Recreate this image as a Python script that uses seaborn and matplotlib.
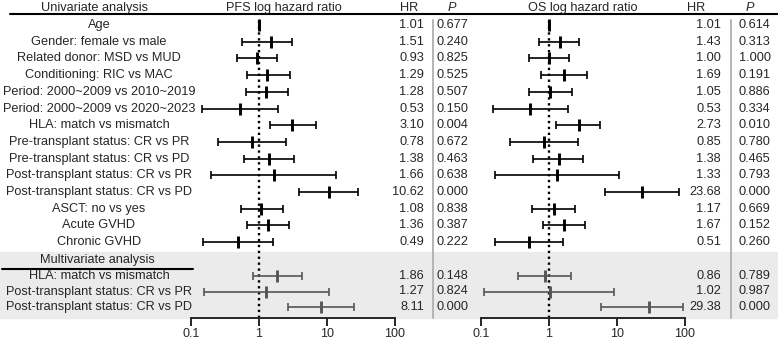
import numpy as np
import pandas as pd
import matplotlib
matplotlib.use("Agg")
import matplotlib.pyplot as plt
import seaborn as sns

sns.set_style("white")
plt.rcParams["font.family"] = ["Liberation Sans", "DejaVu Sans"]

# ---------------- data ----------------
labels_uni = ["Age", "Gender: female vs male", "Related donor: MSD vs MUD",
              "Conditioning: RIC vs MAC", "Period: 2000~2009 vs 2010~2019",
              "Period: 2000~2009 vs 2020~2023", "HLA: match vs mismatch",
              "Pre-transplant status: CR vs PR", "Pre-transplant status: CR vs PD",
              "Post-transplant status: CR vs PR", "Post-transplant status: CR vs PD",
              "ASCT: no vs yes", "Acute GVHD", "Chronic GVHD"]
labels_multi = ["HLA: match vs mismatch", "Post-transplant status: CR vs PR",
                "Post-transplant status: CR vs PD"]

pfs_hr = [1.01, 1.51, 0.93, 1.29, 1.28, 0.53, 3.10, 0.78, 1.38, 1.66, 10.62, 1.08, 1.36, 0.49,
          1.86, 1.27, 8.11]
pfs_lo = [0.985, 0.56, 0.48, 0.67, 0.64, 0.145, 1.45, 0.25, 0.60, 0.20, 3.9, 0.54, 0.67, 0.15,
          0.82, 0.155, 2.64]
pfs_hi = [1.035, 3.09, 1.82, 2.86, 2.64, 1.92, 6.8, 2.47, 3.27, 13.5, 28.8, 2.23, 2.79, 1.59,
          4.33, 10.8, 25.2]
pfs_p = ["0.677", "0.240", "0.825", "0.525", "0.507", "0.150", "0.004", "0.672", "0.463",
         "0.638", "0.000", "0.838", "0.387", "0.222", "0.148", "0.824", "0.000"]

os_hr = [1.01, 1.43, 1.00, 1.69, 1.05, 0.53, 2.73, 0.85, 1.38, 1.33, 23.68, 1.17, 1.67, 0.51,
         0.86, 1.02, 29.38]
os_lo = [0.985, 0.72, 0.50, 0.76, 0.51, 0.149, 1.25, 0.27, 0.58, 0.16, 6.6, 0.56, 0.81, 0.16,
         0.35, 0.11, 5.75]
os_hi = [1.035, 2.79, 1.99, 3.66, 2.15, 1.92, 5.6, 2.64, 3.2, 10.7, 81, 2.41, 3.38, 1.62,
         2.11, 9.1, 94]
os_p = ["0.614", "0.313", "1.000", "0.191", "0.886", "0.334", "0.010", "0.780", "0.465",
        "0.793", "0.000", "0.669", "0.152", "0.260", "0.789", "0.987", "0.000"]

xticks = [0.1, 1, 10, 100]
xtick_labels = ["0.1", "1", "10", "100"]

# ---------------- layout (pixels) ----------------
W, H = 778, 344
row_y = [25 + 16.7 * i for i in range(len(labels_uni))] + [276, 291.5, 307]
group = ["uni"] * len(labels_uni) + ["multi"] * len(labels_multi)
labels = labels_uni + labels_multi
FS = 9.2
LAB_X = 99
AXIS_Y = 318

fig = plt.figure(figsize=(W / 100, H / 100), dpi=100)
bg = fig.add_axes([0, 0, 1, 1])
bg.set_xlim(0, W)
bg.set_ylim(H, 0)
bg.axis("off")

# grey band for multivariate block
bg.axhspan(252, AXIS_Y, color="#ebebeb", zorder=0)
bg.plot([10, W], [14, 14], color="black", lw=1.5)
bg.plot([2, 193], [269, 269], color="black", lw=1.5)
for xs in (433, 731):
    bg.plot([xs, xs], [20, AXIS_Y], color="#b4b4b4", lw=1.4)

# headers
bg.text(95, 8, "Univariate analysis", ha="center", va="center", fontsize=FS)
bg.text(284, 8, "PFS log hazard ratio", ha="center", va="center", fontsize=FS)
bg.text(409, 8, "HR", ha="center", va="center", fontsize=FS)
bg.text(452, 8, "P", ha="center", va="center", fontsize=FS, style="italic")
bg.text(583, 8, "OS log hazard ratio", ha="center", va="center", fontsize=FS)
bg.text(696, 8, "HR", ha="center", va="center", fontsize=FS)
bg.text(750, 8, "P", ha="center", va="center", fontsize=FS, style="italic")
bg.text(97, 260, "Multivariate analysis", ha="center", va="center", fontsize=FS)

for lab, y in zip(labels, row_y):
    bg.text(LAB_X, y, lab, ha="center", va="center", fontsize=FS)


def panel(left_px, hr, lo, hi, pv, hr_x, p_x):
    ax = fig.add_axes([left_px / W, 0, 204 / W, 1])
    ax.patch.set_alpha(0)
    ax.set_xscale("log")
    ax.set_xlim(0.1, 100)
    ax.set_ylim(H, 0)
    df = pd.DataFrame({"hr": hr, "lo": lo, "hi": hi, "y": row_y, "group": group})
    for g, col in (("uni", "black"), ("multi", "#555555")):
        d = df[df.group == g]
        ax.errorbar(d.hr, d.y, xerr=[d.hr - d.lo, d.hi - d.hr], fmt="none",
                    ecolor=col, elinewidth=1.2, capsize=2.6, capthick=1.2, zorder=3)
        sns.scatterplot(data=d, x="hr", y="y", marker="|", s=75, color=col,
                        linewidth=2.1, ax=ax, zorder=4, legend=False)
    ax.axvline(1, ymin=(H - AXIS_Y) / H, ymax=(H - 20) / H, color="black",
               lw=1.7, ls=(0, (1, 1.5)), zorder=2)
    for s in ("top", "left", "right"):
        ax.spines[s].set_visible(False)
    ax.spines["bottom"].set_position(("data", AXIS_Y))
    ax.spines["bottom"].set_linewidth(1.4)
    ax.set_xticks(xticks)
    ax.set_xticklabels(xtick_labels)
    ax.xaxis.set_minor_locator(matplotlib.ticker.NullLocator())
    ax.tick_params(axis="x", direction="out", length=6, width=1.4, pad=1.5,
                   labelsize=9, bottom=True)
    ax.set_yticks([])
    ax.set_xlabel("")
    ax.set_ylabel("")
    for h, p, y in zip(hr, pv, row_y):
        bg.text(hr_x, y, f"{h:.2f}", ha="right", va="center", fontsize=FS)
        bg.text(p_x, y, p, ha="left", va="center", fontsize=FS)
    return ax


panel(191, pfs_hr, pfs_lo, pfs_hi, pfs_p, 424, 437)
panel(481, os_hr, os_lo, os_hi, os_p, 721, 739)

fig.savefig("out.png", dpi=100)
